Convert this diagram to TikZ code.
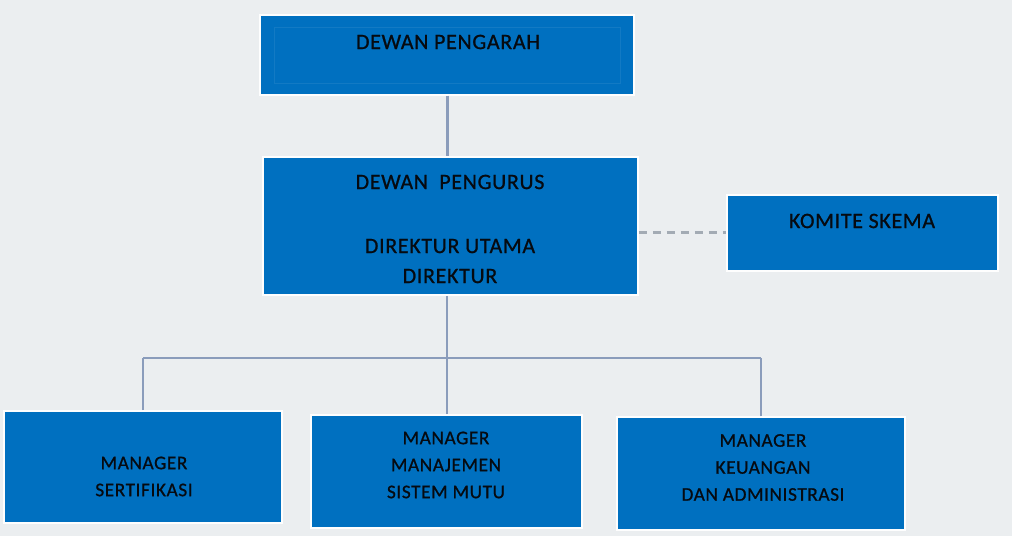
\documentclass[tikz,border=0pt]{standalone}
\usepackage{fontspec}
\setmainfont{Carlito}[LetterSpace=3,FakeBold=0.8]
\usepackage{xcolor}
\usepackage{tikz}
\usetikzlibrary{arrows,shapes,positioning}

\definecolor{bgGray}{HTML}{EBEEF0}
\definecolor{boxBlue}{HTML}{0070C0}
\definecolor{lineBlue}{HTML}{8A9CBB}
\definecolor{dashGray}{HTML}{A3ABB4}
\definecolor{txtDark}{HTML}{060A10}

\tikzset{
  unit/.style={fill=boxBlue,draw=white!95!bgGray,line width=1.5bp,inner sep=0pt},
  head/.style={inner sep=0pt,text=txtDark,align=center,
    font=\fontsize{22bp}{30bp}\selectfont},
  mgr/.style={inner sep=0pt,text=txtDark,align=center,
    font=\fontsize{19.3bp}{27bp}\selectfont},
  link/.style={draw=lineBlue,line width=2bp},
}

\begin{document}
\begin{tikzpicture}[x=1bp,y=-1bp]
  % background
  \fill[bgGray] (0,0) rectangle (1012,536);
  \useasboundingbox (0,0) rectangle (1012,536);
  % boxes
  \node[unit,minimum width=374bp,minimum height=80bp] (pengarah) at (447,55) {};
  \draw[boxBlue!93!white,line width=0.5bp] ([shift={(15,13)}]pengarah.north west)
    rectangle ([shift={(-15,-12)}]pengarah.south east);
  \node[unit,minimum width=375bp,minimum height=138bp] (pengurus) at (450.5,226) {};
  \node[unit,minimum width=271bp,minimum height=76bp] (komite) at (862.5,233) {};
  \node[unit,minimum width=278bp,minimum height=112bp] (sertifikasi) at (143,467) {};
  \node[unit,minimum width=271bp,minimum height=113bp] (mutu) at (446.5,471.5) {};
  \node[unit,minimum width=288bp,minimum height=113bp] (keuangan) at (761,473.5) {};
  % texts
  \node[head] (pengarah-t) at (448,42) {DEWAN PENGARAH};
  \node[head] (pengurus-t) at (450,229) {DEWAN\ \ PENGURUS\\[4bp]\\DIREKTUR UTAMA\\DIREKTUR};
  \node[head] (komite-t) at (862,221) {KOMITE SKEMA};
  \node[mgr] (sertifikasi-t) at (144,476.5) {MANAGER\\SERTIFIKASI};
  \node[mgr] (mutu-t) at (446,465) {MANAGER\\MANAJEMEN\\SISTEM MUTU};
  \node[mgr] (keuangan-t) at (763,467.5) {MANAGER\\KEUANGAN\\DAN ADMINISTRASI};
  % connectors
  \coordinate (bus) at (447,358);
  \draw[link,line width=3bp] (pengarah.south) -- (pengarah.south |- pengurus.north);
  \draw[link] (pengurus.south -| bus) -- (bus);
  \draw[link] (sertifikasi.north |- bus) -- (keuangan.north |- bus);
  \foreach \m in {sertifikasi,mutu,keuangan}
    \draw[link] (\m.north) -- (\m.north |- bus);
  \draw[draw=dashGray,line width=3bp,dash pattern=on 8bp off 6bp]
    (pengurus.east |- komite.west) -- (komite.west);
\end{tikzpicture}
\end{document}
